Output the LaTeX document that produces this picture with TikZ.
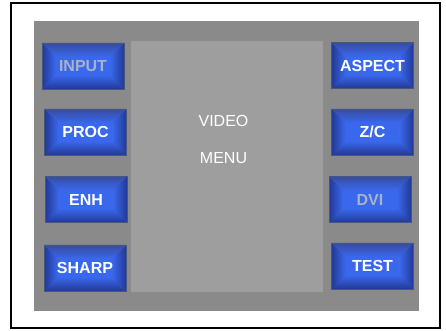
\documentclass[tikz,border=0pt]{standalone}
\usepackage{fontspec}
\setmainfont{Liberation Sans}
\usetikzlibrary{calc}
\definecolor{bdark}{RGB}{34,56,150}
\definecolor{blight}{RGB}{58,104,236}
\definecolor{bborder}{RGB}{70,86,125}
\definecolor{panelgray}{RGB}{138,138,138}
\definecolor{menugray}{RGB}{158,158,158}
\definecolor{dimtext}{RGB}{168,178,200}
\tikzset{
  btn/.style={draw=bborder, fill=blight, line width=0.8pt, minimum width=82pt, minimum height=46pt,
    inner sep=0pt, text=white, font=\fontsize{16}{16}\selectfont\bfseries,
    path picture={
      \coordinate (NW) at (path picture bounding box.north west);
      \coordinate (NE) at (path picture bounding box.north east);
      \coordinate (SW) at (path picture bounding box.south west);
      \coordinate (SE) at (path picture bounding box.south east);
      \coordinate (iNW) at ($(NW)+(14,-14)$);
      \coordinate (iNE) at ($(NE)+(-14,-14)$);
      \coordinate (iSW) at ($(SW)+(14,14)$);
      \coordinate (iSE) at ($(SE)+(-14,14)$);
      \shade[left color=bdark, right color=blight] (NW) -- (iNW) -- (iSW) -- (SW) -- cycle;
      \shade[right color=bdark, left color=blight] (NE) -- (iNE) -- (iSE) -- (SE) -- cycle;
      \shade[top color=bdark!90!white, bottom color=blight] (NW) -- (NE) -- (iNE) -- (iNW) -- cycle;
      \shade[bottom color=bdark, top color=blight] (SW) -- (SE) -- (iSE) -- (iSW) -- cycle;
    }},
  dim/.style={text=dimtext},
  menutext/.style={text=white, font=\fontsize{16}{16}\selectfont}
}
\begin{document}
\begin{tikzpicture}[x=1pt,y=1pt]
  \useasboundingbox (0,0) rectangle (446,331);
  \fill[white] (0,0) rectangle (446,331);
  \node[draw=black, line width=2pt, minimum width=429pt, minimum height=325pt, inner sep=0pt] (frame) at (225.5,165.5) {};
  \node[fill=panelgray, minimum width=385pt, minimum height=290pt, inner sep=0pt] (panel) at (226.5,165) {};
  \node[fill=menugray, minimum width=192pt, minimum height=251pt, inner sep=0pt] (menu) at (227,164.5) {};
  \node[menutext] (video) at (223.5,210) {VIDEO};
  \node[menutext] (menulbl) at (223.5,173) {MENU};
  \node[btn, dim] (input) at (83,265) {INPUT};
  \node[btn] (proc) at (85.5,199) {PROC};
  \node[btn] (enh) at (86,131.5) {ENH};
  \node[btn] (sharp) at (85,63) {SHARP};
  \node[btn] (aspect) at (372.5,265.5) {ASPECT};
  \node[btn] (zc) at (372.5,199) {Z/C};
  \node[btn, dim] (dvi) at (370,131.5) {DVI};
  \node[btn] (test) at (372.5,65) {TEST};
\end{tikzpicture}
\end{document}
